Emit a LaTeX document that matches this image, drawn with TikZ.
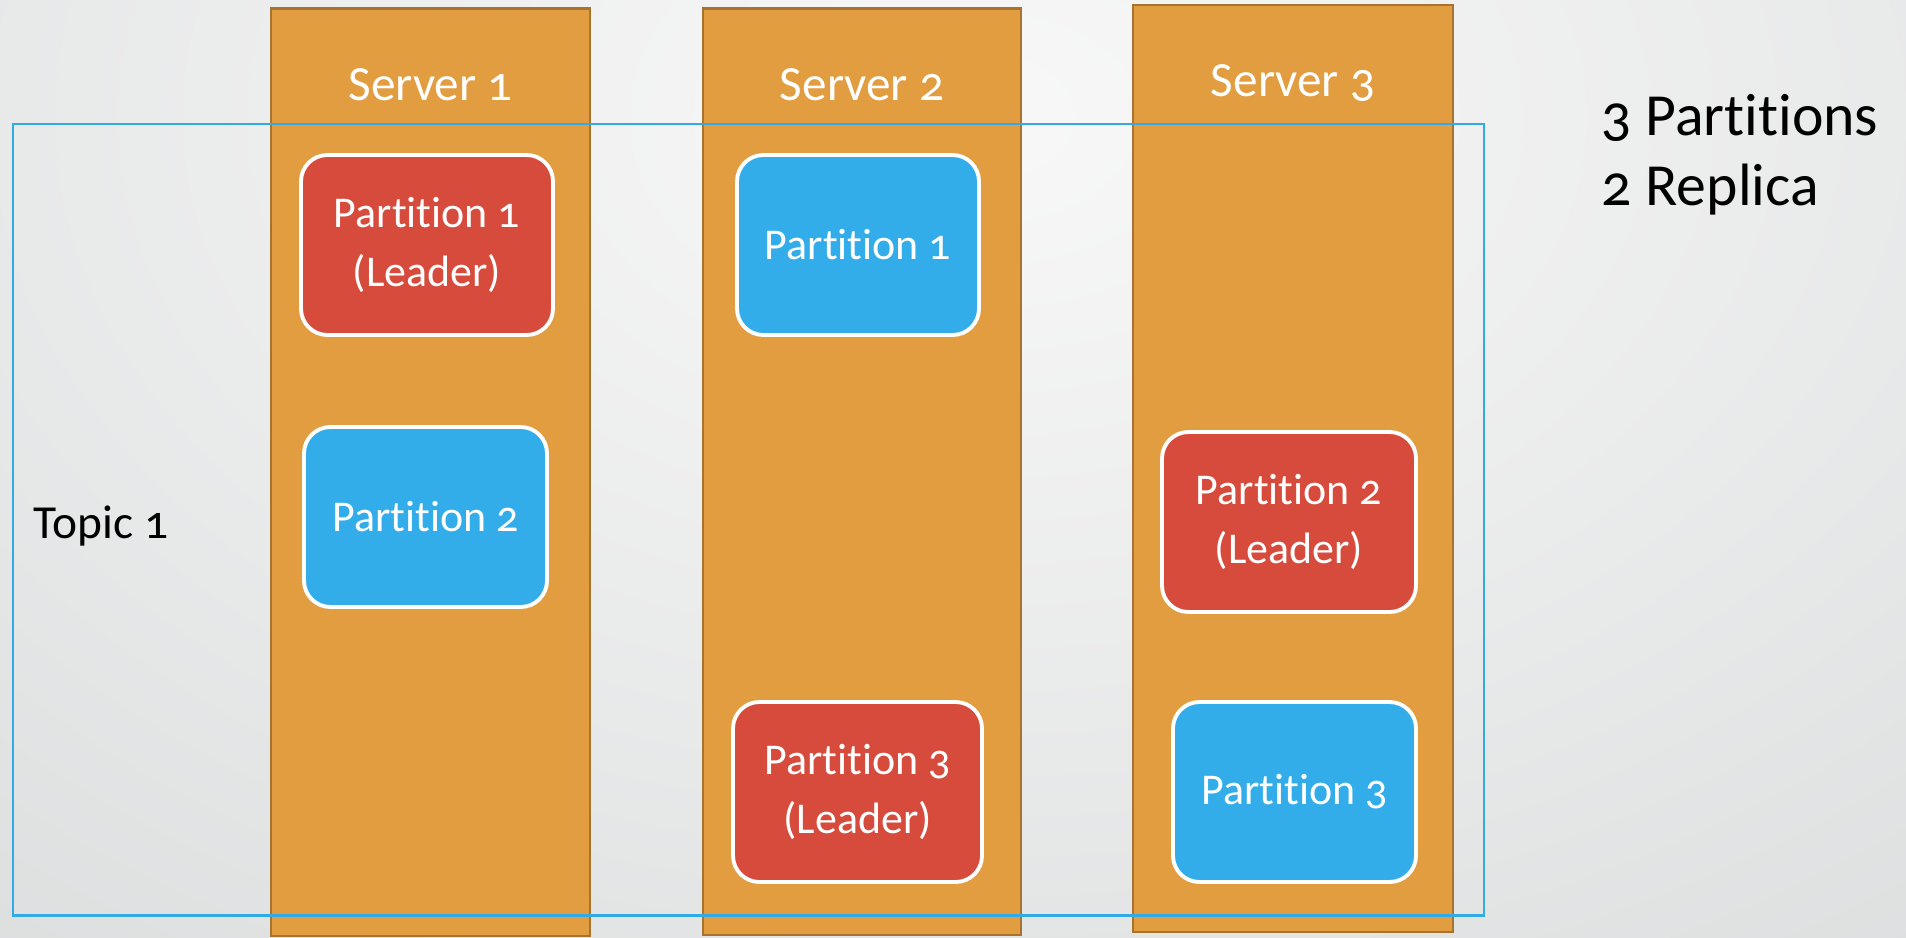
\documentclass[tikz,border=0pt]{standalone}
\usepackage{fontspec}
\setmainfont{Carlito}[Numbers=OldStyle,Ligatures=NoCommon]
\usepackage{tikz}
\usetikzlibrary{positioning}
\definecolor{srvorange}{HTML}{E19D3F}
\definecolor{srvbrown}{HTML}{A8732E}
\definecolor{leadred}{HTML}{D74B3C}
\definecolor{replblue}{HTML}{32ADEA}
\definecolor{topicblue}{HTML}{33AAE8}
\definecolor{bgcenter}{HTML}{F8F8F8}
\definecolor{bgedge}{HTML}{C6C9CA}
\tikzset{
  server/.style={fill=srvorange,draw=srvbrown,line width=0.8pt},
  srvlabel/.style={text=white,font=\fontsize{14}{17}\selectfont},
  part/.style={draw=white,line width=1.1pt,rounded corners=7.5pt,text=white,
    align=center,minimum height=1.8cm,font=\fontsize{12.5}{17}\selectfont},
  leader/.style={part,fill=leadred},
  replica/.style={part,fill=replblue},
  topic/.style={draw=topicblue,line width=0.7pt},
  note/.style={inner sep=0pt,anchor=base west}
}

\begin{document}
\begin{tikzpicture}
  \useasboundingbox (0,0) rectangle (19.06,9.37);
  % background
  \begin{scope}
    \clip (0,0) rectangle (19.06,9.37);
    \fill[bgedge] (0,0) rectangle (19.06,9.37);
    \shade[inner color=bgcenter,outer color=bgedge] (9.8,8.2) ellipse (30cm and 20cm);
  \end{scope}
  % servers
  \draw[server] (2.71,0.01) rectangle (5.90,9.285);
  \draw[server] (7.03,0.02) rectangle (10.21,9.285);
  \draw[server] (11.33,0.05) rectangle (14.53,9.32);
  \node[srvlabel] (srvone) at (4.305,8.52) {Server 1};
  \node[srvlabel] (srvtwo) at (8.62,8.52) {Server 2};
  \node[srvlabel] (srvthree) at (12.93,8.54) {Server 3};
  % topic
  \draw[topic] (0.13,0.215) rectangle (14.84,8.13);
  \node[note,font=\fontsize{13.5}{16}\selectfont] (topicone) at (0.33,3.99) {Topic 1};
  % partitions
  \node[leader,minimum width=2.52cm] (ponelead) at (4.27,6.92) {Partition 1\\(Leader)};
  \node[replica,minimum width=2.43cm] (ptwocopy) at (4.255,4.20) {Partition 2};
  \node[replica,minimum width=2.42cm] (ponecopy) at (8.58,6.92) {Partition 1};
  \node[leader,minimum width=2.49cm] (pthreelead) at (8.575,1.45) {Partition 3\\(Leader)};
  \node[leader,minimum width=2.54cm] (ptwolead) at (12.89,4.15) {Partition 2\\(Leader)};
  \node[replica,minimum width=2.43cm] (pthreecopy) at (12.945,1.45) {Partition 3};
  % counts
  \node[note,font=\fontsize{17}{20}\selectfont] (nparts) at (16.01,8.02) {3 Partitions};
  \node[note,font=\fontsize{17}{20}\selectfont] (nrepl) at (16.01,7.32) {2 Replica};
\end{tikzpicture}
\end{document}
